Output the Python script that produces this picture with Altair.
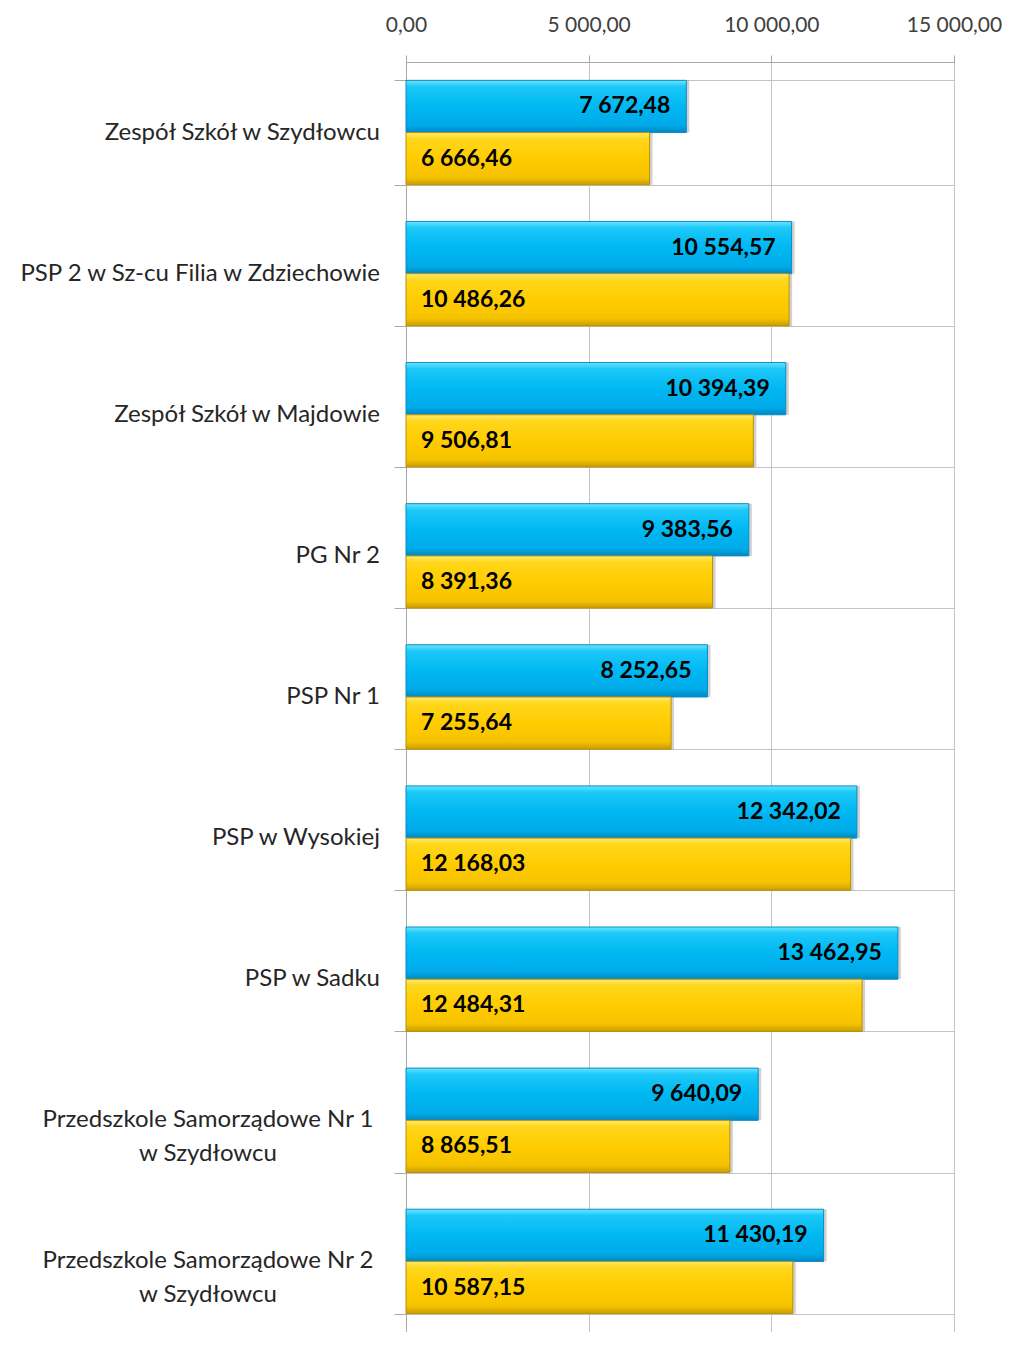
import altair as alt
import pandas as pd

categories = [
    "Zespół Szkół w Szydłowcu",
    "PSP 2 w Sz-cu Filia w Zdziechowie",
    "Zespół Szkół w Majdowie",
    "PG Nr 2",
    "PSP Nr 1",
    "PSP w Wysokiej",
    "PSP w Sadku",
    "Przedszkole Samorządowe Nr 1\nw Szydłowcu",
    "Przedszkole Samorządowe Nr 2\nw Szydłowcu",
]
seria_niebieska = [7672.48, 10554.57, 10394.39, 9383.56, 8252.65, 12342.02, 13462.95, 9640.09, 11430.19]
seria_zolta = [6666.46, 10486.26, 9506.81, 8391.36, 7255.64, 12168.03, 12484.31, 8865.51, 10587.15]
series_names = ["niebieska", "zolta"]
x_ticks = [0, 5000, 10000, 15000]


def fmt(v):
    return f"{v:,.2f}".replace(",", " ").replace(".", ",")


rows = []
for c, b, z in zip(categories, seria_niebieska, seria_zolta):
    rows.append(dict(kat=c, seria=series_names[0], wartosc=b, etykieta=fmt(b)))
    rows.append(dict(kat=c, seria=series_names[1], wartosc=z, etykieta=fmt(z)))
df = pd.DataFrame(rows)
lab_df = pd.DataFrame({"kat": categories, "multi": [("\n" in c) for c in categories]})

FONT = "Lato"
GRID = "#C4C4C4"
AXIS = "#A8A8A8"

y_enc = alt.Y(
    "kat:N",
    sort=categories,
    scale=alt.Scale(domain=categories, paddingInner=0.26, paddingOuter=0.13),
    axis=alt.Axis(
        labels=False, grid=True, tickBand="extent", tickSize=12, title=None,
        gridColor=GRID, tickColor=AXIS, domainColor=AXIS,
    ),
)
yoff_enc = alt.YOffset(
    "seria:N", sort=series_names,
    scale=alt.Scale(domain=series_names, paddingInner=0.0, paddingOuter=0.0),
)
x_enc = alt.X(
    "wartosc:Q",
    scale=alt.Scale(domain=[0, 15000], nice=False),
    axis=alt.Axis(
        orient="top", values=x_ticks, grid=True, tickSize=7, labelPadding=20,
        labelFontSize=21, labelColor="#404040", labelFont=FONT, title=None,
        labelExpr="replace(replace(format(datum.value, ',.2f'), ',', ' '), '.', ',')",
        gridColor=GRID, tickColor=AXIS, domainColor=AXIS, labelFlush=False,
    ),
)

blue_grad = alt.LinearGradient(
    gradient="linear", x1=0, x2=0, y1=0, y2=1,
    stops=[
        alt.GradientStop(color="#6AE6FF", offset=0),
        alt.GradientStop(color="#1CC8F8", offset=0.12),
        alt.GradientStop(color="#00B8F2", offset=0.5),
        alt.GradientStop(color="#00AAE8", offset=0.86),
        alt.GradientStop(color="#0088C2", offset=1),
    ],
)
yellow_grad = alt.LinearGradient(
    gradient="linear", x1=0, x2=0, y1=0, y2=1,
    stops=[
        alt.GradientStop(color="#FFEA70", offset=0),
        alt.GradientStop(color="#FFD71C", offset=0.12),
        alt.GradientStop(color="#FFCC00", offset=0.5),
        alt.GradientStop(color="#F5C200", offset=0.86),
        alt.GradientStop(color="#C99C00", offset=1),
    ],
)

base = alt.Chart(df)

shadow = base.mark_bar(
    color="#7A7A7A", opacity=0.35, xOffset=3, yOffset=3
).encode(x=x_enc, y=y_enc, yOffset=yoff_enc)

blue_bars = base.transform_filter(alt.datum.seria == series_names[0]).mark_bar(
    color=blue_grad, stroke="#0A8CC4", strokeWidth=1
).encode(x=x_enc, y=y_enc, yOffset=yoff_enc)

yellow_bars = base.transform_filter(alt.datum.seria == series_names[1]).mark_bar(
    color=yellow_grad, stroke="#B8900A", strokeWidth=1
).encode(x=x_enc, y=y_enc, yOffset=yoff_enc)

blue_text = base.transform_filter(alt.datum.seria == series_names[0]).mark_text(
    align="right", baseline="middle", dx=-16, fontSize=23, fontWeight="bold", font=FONT, color="#000000"
).encode(x=x_enc, y=y_enc, yOffset=yoff_enc, text="etykieta:N")

yellow_text = base.transform_filter(alt.datum.seria == series_names[1]).mark_text(
    align="left", baseline="middle", fontSize=23, fontWeight="bold", font=FONT, color="#000000"
).encode(x=alt.value(15), y=y_enc, yOffset=yoff_enc, text="etykieta:N")

lab_base = alt.Chart(lab_df)
cat_single = lab_base.transform_filter(alt.datum.multi == False).mark_text(
    align="right", baseline="middle", fontSize=24, font=FONT, color="#262626"
).encode(x=alt.value(-26), y=y_enc, text="kat:N")
cat_multi = lab_base.transform_filter(alt.datum.multi == True).mark_text(
    align="center", baseline="middle", fontSize=24, font=FONT, color="#262626",
    lineBreak="\n", lineHeight=34,
).encode(x=alt.value(-198), y=y_enc, text="kat:N")

chart = alt.layer(
    shadow, blue_bars, yellow_bars, blue_text, yellow_text, cat_single, cat_multi
).properties(
    width=548, height=1270,
    padding={"left": 398, "top": 54, "right": 48, "bottom": 0},
    autosize=alt.AutoSizeParams(type="none"),
).configure_view(stroke=None).configure(background="white")

chart.save("out.html", embed_options={"renderer": "svg", "actions": False})
